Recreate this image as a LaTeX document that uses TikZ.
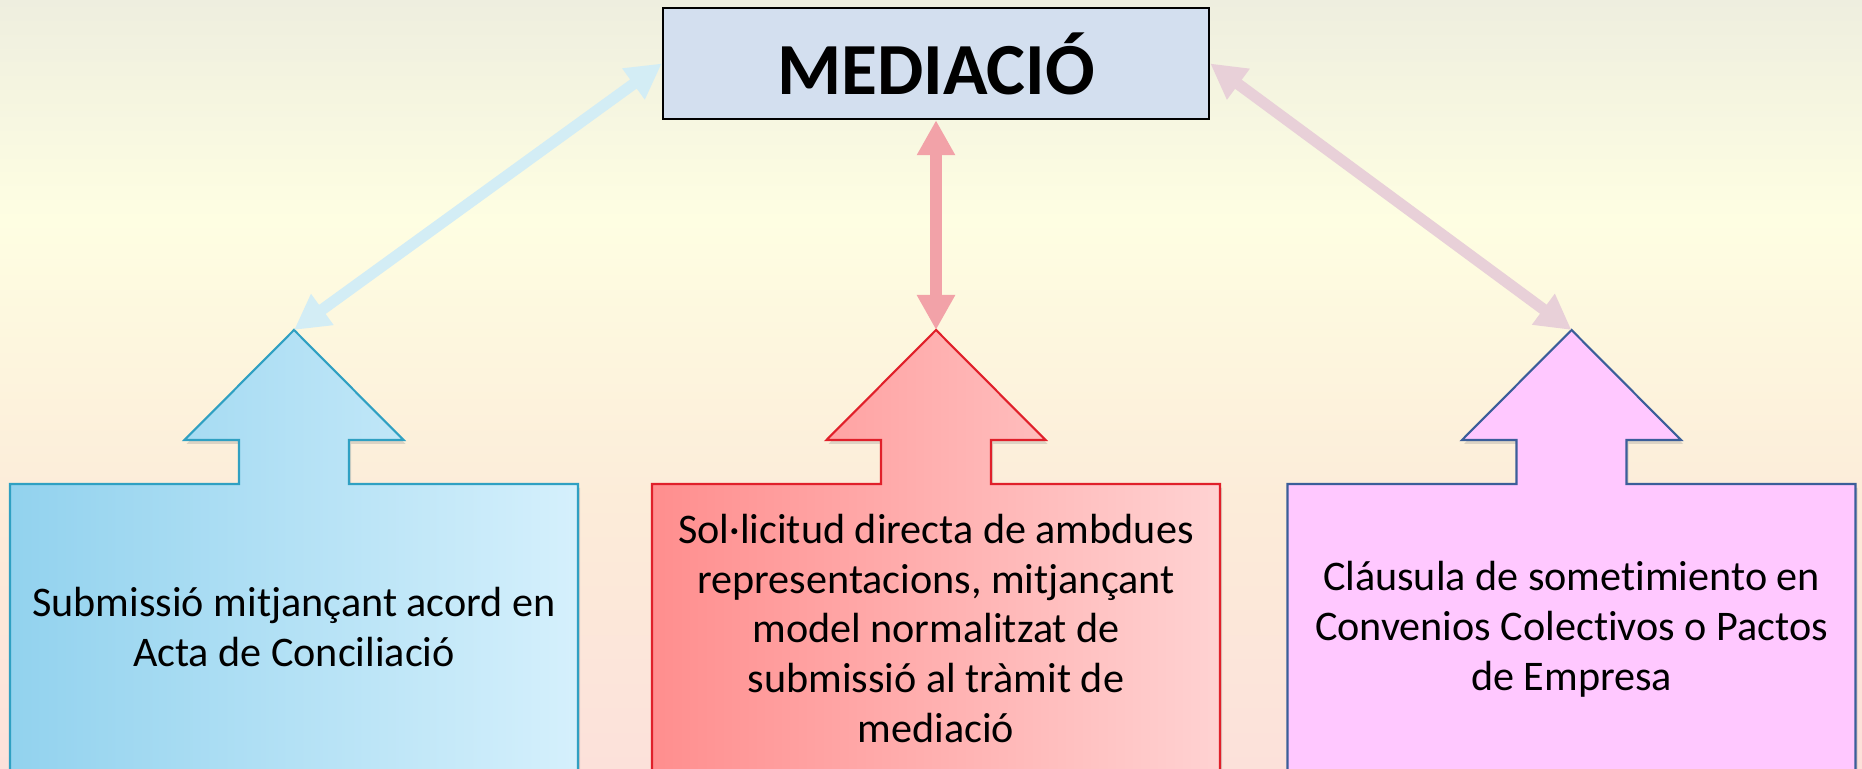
\documentclass[tikz,border=0pt]{standalone}
\usepackage{fontspec}
\setmainfont{Carlito}[Ligatures=NoCommon]
\usetikzlibrary{arrows.meta,shadows}

\definecolor{bgtop}{RGB}{238,238,223}
\definecolor{bgyel}{RGB}{254,254,226}
\definecolor{bgmid}{RGB}{252,236,217}
\definecolor{bgbot}{RGB}{252,225,218}
\definecolor{titlefill}{RGB}{211,223,239}
\definecolor{blueL}{RGB}{146,210,238}
\definecolor{blueR}{RGB}{213,240,252}
\definecolor{blueline}{RGB}{47,160,194}
\definecolor{redL}{RGB}{255,142,142}
\definecolor{redR}{RGB}{255,210,210}
\definecolor{redline}{RGB}{224,32,42}
\definecolor{pinkfill}{RGB}{255,200,255}
\definecolor{pinkline}{RGB}{59,94,153}
\definecolor{arrA}{RGB}{211,237,245}
\definecolor{arrB}{RGB}{242,162,168}
\definecolor{arrC}{RGB}{232,208,216}

\begin{document}
\begin{tikzpicture}
[title/.style={draw=black,line width=0.7pt,fill=titlefill,minimum width=5.46cm,minimum height=1.11cm,inner sep=0pt,font=\fontsize{20.9}{24}\selectfont\bfseries},
txt/.style={align=center,inner sep=0pt,font=\fontsize{12}{14.2}\selectfont},
upbox/.style={line width=0.6pt,drop shadow={opacity=0.25,shadow xshift=0.02cm,shadow yshift=-0.04cm}},
link/.style={line width=#1,{Triangle[length=0.35cm,width=0.36cm]}-{Triangle[length=0.35cm,width=0.36cm]}},]

\clip (0,0) rectangle (18.62,7.69);

%Background
\shade[top color=bgtop,bottom color=bgyel] (0,5.49) rectangle (18.62,7.69);
\shade[top color=bgyel,bottom color=bgmid] (0,2.69) rectangle (18.62,5.49);
\shade[top color=bgmid,bottom color=bgbot] (0,0) rectangle (18.62,2.69);

%Tips of the arrow boxes
\coordinate (tipA) at (2.94,4.39);
\coordinate (tipB) at (9.36,4.39);
\coordinate (tipC) at (15.715,4.39);

%Arrow boxes
\path[upbox,draw=blueline,left color=blueL,right color=blueR] (tipA) -- ++(1.095,-1.10) -- ++(-0.545,0) -- ++(0,-0.44) -- ++(2.29,0) -- ++(0,-2.95) -- ++(-5.68,0) -- ++(0,2.95) -- ++(2.29,0) -- ++(0,0.44) -- ++(-0.545,0) -- cycle;
\path[upbox,draw=redline,left color=redL,right color=redR] (tipB) -- ++(1.095,-1.10) -- ++(-0.545,0) -- ++(0,-0.44) -- ++(2.29,0) -- ++(0,-2.95) -- ++(-5.68,0) -- ++(0,2.95) -- ++(2.29,0) -- ++(0,0.44) -- ++(-0.545,0) -- cycle;
\path[upbox,draw=pinkline,fill=pinkfill] (tipC) -- ++(1.095,-1.10) -- ++(-0.545,0) -- ++(0,-0.44) -- ++(2.29,0) -- ++(0,-2.95) -- ++(-5.68,0) -- ++(0,2.95) -- ++(2.29,0) -- ++(0,0.44) -- ++(-0.545,0) -- cycle;

%Labeling boxes
\node (title) at (9.36,7.055)[title] {MEDIACIÓ};
\node (subm) at (2.94,1.42)[txt] {Submissió mitjançant acord en\\Acta de Conciliació};
\node (solli) at (9.36,1.405)[txt] {Sol·licitud directa de ambdues\\representacions, mitjançant\\model normalitzat de\\submissió al tràmit de\\mediació};
\node (claus) at (15.715,1.40)[txt] {Cláusula de sometimiento en\\Convenios Colectivos o Pactos\\de Empresa};

%Joining title and boxes
\draw[link=3.2pt,draw=arrA,fill=arrA] (title.west)--(tipA);
\draw[link=3.4pt,draw=arrB,fill=arrB] (title.south)--(tipB);
\draw[link=3.2pt,draw=arrC,fill=arrC] (title.east)--(tipC);

\end{tikzpicture}
\end{document}
